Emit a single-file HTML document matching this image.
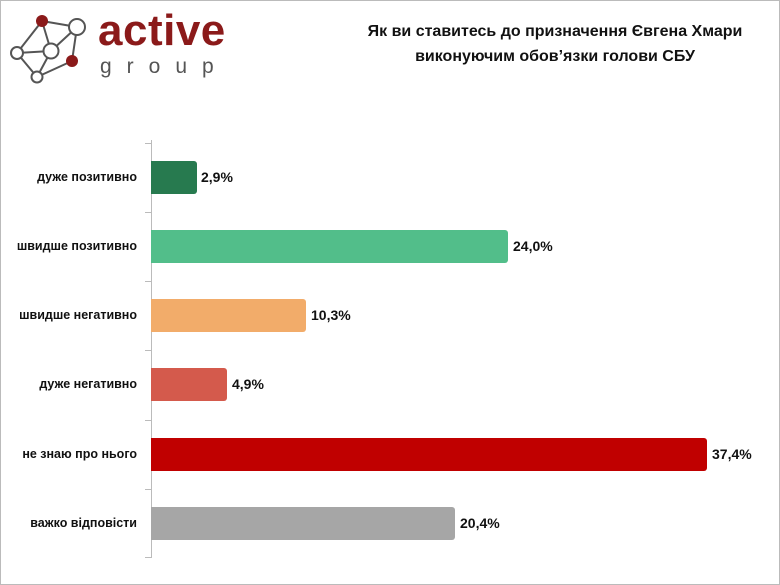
<!DOCTYPE html>
<html><head><meta charset="utf-8"><style>
body{margin:0;width:780px;height:585px;background:#fff;overflow:hidden;font-family:"Liberation Sans","DejaVu Sans",sans-serif;}
.wrap{position:absolute;left:0;top:0;width:778px;height:583px;border:1px solid #bbb;}
.t{position:absolute;font-weight:bold;color:#111;}
.lbl{position:absolute;right:643px;font-size:12.5px;font-weight:bold;color:#111;text-align:right;white-space:nowrap;}
.bar{position:absolute;left:151px;height:33px;border-radius:0 3px 3px 0;}
.val{position:absolute;font-size:14px;font-weight:bold;color:#111;}
.tick{position:absolute;left:145px;width:6px;height:1px;background:#bbb;}
</style></head><body><div class="wrap"></div>
<svg style="position:absolute;left:0;top:0" width="90" height="90">
<g stroke="#555" stroke-width="2" fill="none">
<line x1="42" y1="21" x2="77" y2="27"/><line x1="42" y1="21" x2="17" y2="53"/><line x1="77" y1="27" x2="51" y2="51"/><line x1="77" y1="27" x2="72" y2="61"/><line x1="17" y1="53" x2="51" y2="51"/><line x1="17" y1="53" x2="37" y2="77"/><line x1="51" y1="51" x2="37" y2="77"/><line x1="72" y1="61" x2="37" y2="77"/><line x1="42" y1="21" x2="51" y2="51"/>
</g>
<circle cx="42" cy="21" r="6" fill="#8b1a1a"/>
<circle cx="77" cy="27" r="8" fill="#fff" stroke="#555" stroke-width="2"/>
<circle cx="51" cy="51" r="7.5" fill="#fff" stroke="#555" stroke-width="2"/>
<circle cx="17" cy="53" r="6" fill="#fff" stroke="#555" stroke-width="2"/>
<circle cx="72" cy="61" r="6" fill="#8b1a1a"/>
<circle cx="37" cy="77" r="5.5" fill="#fff" stroke="#555" stroke-width="2"/>
</svg>
<div class="t" style="left:98px;top:6px;font-size:44px;color:#8b1a1a;letter-spacing:0.5px;">active</div>
<div class="t" style="left:100px;top:55px;font-size:21px;color:#555;font-weight:normal;letter-spacing:15px;">group</div>
<div class="t" style="left:330px;top:19px;width:450px;text-align:center;font-size:16px;line-height:25px;">Як ви ставитесь до призначення Євгена Хмари<br>виконуючим обов’язки голови СБУ</div>
<div style="position:absolute;left:151px;top:140px;width:1px;height:418px;background:#bbb"></div>
<div class="tick" style="top:143px"></div><div class="tick" style="top:212px"></div><div class="tick" style="top:281px"></div><div class="tick" style="top:350px"></div><div class="tick" style="top:420px"></div><div class="tick" style="top:489px"></div><div class="tick" style="top:557px"></div>
<div class="lbl" style="top:170px">дуже позитивно</div>
<div class="lbl" style="top:239px">швидше позитивно</div>
<div class="lbl" style="top:308px">швидше негативно</div>
<div class="lbl" style="top:377px">дуже негативно</div>
<div class="lbl" style="top:447px">не знаю про нього</div>
<div class="lbl" style="top:516px">важко відповісти</div>
<div class="bar" style="top:161px;width:46px;background:#277a4f"></div>
<div class="bar" style="top:230px;width:357px;background:#52be8a"></div>
<div class="bar" style="top:299px;width:155px;background:#f2ac6a"></div>
<div class="bar" style="top:368px;width:76px;background:#d45a4c"></div>
<div class="bar" style="top:438px;width:556px;background:#c00000"></div>
<div class="bar" style="top:507px;width:304px;background:#a6a6a6"></div>
<div class="val" style="left:201px;top:169px">2,9%</div>
<div class="val" style="left:513px;top:238px">24,0%</div>
<div class="val" style="left:311px;top:307px">10,3%</div>
<div class="val" style="left:232px;top:376px">4,9%</div>
<div class="val" style="left:712px;top:446px">37,4%</div>
<div class="val" style="left:460px;top:515px">20,4%</div>
</body></html>
